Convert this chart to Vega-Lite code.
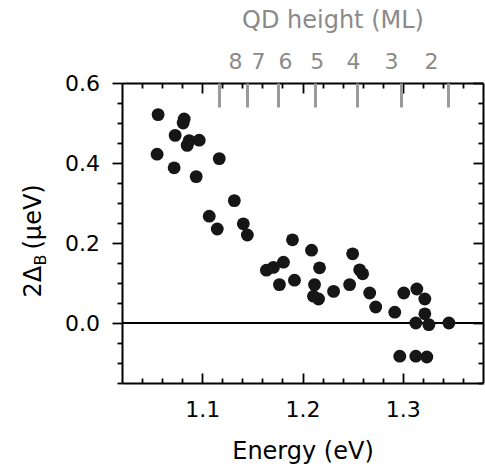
{
  "$schema": "https://vega.github.io/schema/vega-lite/v6.json",
  "width": 361,
  "height": 300,
  "autosize": {"type": "none"},
  "padding": {"left": 122, "top": 83, "right": 2, "bottom": 88},
  "config": {
    "font": "DejaVu Sans",
    "view": {"stroke": null},
    "axis": {"grid": false, "labelFlush": false, "labelOverlap": false, "domainColor": "#000000", "tickColor": "#000000", "labelColor": "#000000", "titleColor": "#000000", "tickWidth": 1.8, "domainWidth": 2, "labelFontWeight": "normal", "titleFontWeight": "normal"}
  },
  "data": {
    "values": [
      {"E": 1.056, "v": 0.521}, {"E": 1.082, "v": 0.510}, {"E": 1.081, "v": 0.500},
      {"E": 1.073, "v": 0.469}, {"E": 1.087, "v": 0.456}, {"E": 1.085, "v": 0.444},
      {"E": 1.097, "v": 0.457}, {"E": 1.055, "v": 0.422}, {"E": 1.117, "v": 0.411},
      {"E": 1.072, "v": 0.388}, {"E": 1.094, "v": 0.366}, {"E": 1.132, "v": 0.306},
      {"E": 1.107, "v": 0.267}, {"E": 1.141, "v": 0.248}, {"E": 1.115, "v": 0.235},
      {"E": 1.145, "v": 0.220}, {"E": 1.190, "v": 0.208}, {"E": 1.164, "v": 0.132},
      {"E": 1.171, "v": 0.139}, {"E": 1.181, "v": 0.152}, {"E": 1.177, "v": 0.096},
      {"E": 1.192, "v": 0.107}, {"E": 1.209, "v": 0.182}, {"E": 1.217, "v": 0.138},
      {"E": 1.250, "v": 0.173}, {"E": 1.257, "v": 0.133}, {"E": 1.260, "v": 0.123},
      {"E": 1.212, "v": 0.096}, {"E": 1.211, "v": 0.067}, {"E": 1.216, "v": 0.060},
      {"E": 1.231, "v": 0.079}, {"E": 1.247, "v": 0.096}, {"E": 1.267, "v": 0.075},
      {"E": 1.273, "v": 0.040}, {"E": 1.292, "v": 0.027}, {"E": 1.301, "v": 0.075},
      {"E": 1.314, "v": 0.085}, {"E": 1.322, "v": 0.060}, {"E": 1.322, "v": 0.023},
      {"E": 1.313, "v": 0.000}, {"E": 1.326, "v": -0.004}, {"E": 1.346, "v": 0.000},
      {"E": 1.297, "v": -0.083}, {"E": 1.313, "v": -0.083}, {"E": 1.324, "v": -0.085}
    ]
  },
  "resolve": {"scale": {"x": "shared", "y": "shared"}, "axis": {"x": "independent", "y": "independent"}},
  "layer": [
    {
      "mark": {"type": "rule", "color": "#000000", "strokeWidth": 2},
      "encoding": {"y": {"datum": 0, "type": "quantitative", "scale": {"domain": [-0.15, 0.6], "nice": false, "zero": false}, "axis": null}}
    },
    {
      "mark": {"type": "circle", "size": 165, "color": "#161616", "opacity": 1},
      "encoding": {
        "x": {"field": "E", "type": "quantitative", "scale": {"domain": [1.02, 1.38], "nice": false, "zero": false},
          "axis": {"orient": "bottom", "values": [1.1, 1.2, 1.3], "ticks": false, "domain": true, "labelFontSize": 22, "labelPadding": 16, "labelBaseline": "top", "format": ".1f", "title": "Energy (eV)", "titleFontSize": 24, "titleY": 75, "titleBaseline": "alphabetic"}},
        "y": {"field": "v", "type": "quantitative", "scale": {"domain": [-0.15, 0.6], "nice": false, "zero": false},
          "axis": {"orient": "left", "values": [0, 0.2, 0.4, 0.6], "tickSize": 10, "domain": true, "labelFontSize": 22, "labelPadding": 12.5, "format": ".1f", "title": null}}
      }
    },
    {
      "mark": {"type": "point", "opacity": 0},
      "encoding": {
        "x": {"field": "E", "type": "quantitative", "scale": {"domain": [1.02, 1.38], "nice": false, "zero": false},
          "axis": {"orient": "bottom", "values": [1.1, 1.2, 1.3], "tickSize": -10, "labels": false, "domain": false, "title": null}},
        "y": {"field": "v", "type": "quantitative", "scale": {"domain": [-0.15, 0.6], "nice": false, "zero": false},
          "axis": {"orient": "left", "values": [-0.15, -0.1, -0.05, 0.05, 0.1, 0.15, 0.25, 0.3, 0.35, 0.45, 0.5, 0.55], "tickSize": 5, "labels": false, "domain": false, "title": null}}
      }
    },
    {
      "mark": {"type": "point", "opacity": 0},
      "encoding": {
        "x": {"field": "E", "type": "quantitative", "scale": {"domain": [1.02, 1.38], "nice": false, "zero": false},
          "axis": {"orient": "bottom", "values": [1.04, 1.06, 1.08, 1.12, 1.14, 1.16, 1.18, 1.22, 1.24, 1.26, 1.28, 1.32, 1.34, 1.36], "tickSize": -5, "labels": false, "domain": false, "title": null}},
        "y": {"field": "v", "type": "quantitative", "scale": {"domain": [-0.15, 0.6], "nice": false, "zero": false},
          "axis": {"orient": "right", "values": [0, 0.2, 0.4, 0.6], "tickSize": -10, "labels": false, "domain": true, "title": null}}
      }
    },
    {
      "mark": {"type": "point", "opacity": 0},
      "encoding": {
        "x": {"field": "E", "type": "quantitative", "scale": {"domain": [1.02, 1.38], "nice": false, "zero": false},
          "axis": {"orient": "top", "values": [1.1, 1.2, 1.3], "tickSize": -10, "labels": false, "domain": true, "title": null}},
        "y": {"field": "v", "type": "quantitative", "scale": {"domain": [-0.15, 0.6], "nice": false, "zero": false},
          "axis": {"orient": "right", "values": [-0.15, -0.1, -0.05, 0.05, 0.1, 0.15, 0.25, 0.3, 0.35, 0.45, 0.5, 0.55], "tickSize": -5, "labels": false, "domain": false, "title": null}}
      }
    },
    {
      "mark": {"type": "point", "opacity": 0},
      "encoding": {
        "x": {"field": "E", "type": "quantitative", "scale": {"domain": [1.02, 1.38], "nice": false, "zero": false},
          "axis": {"orient": "top", "values": [1.04, 1.06, 1.08, 1.12, 1.14, 1.16, 1.18, 1.22, 1.24, 1.26, 1.28, 1.32, 1.34, 1.36], "tickSize": -5, "labels": false, "domain": false, "title": null}},
        "y": {"field": "v", "type": "quantitative", "scale": {"domain": [-0.15, 0.6], "nice": false, "zero": false},
          "axis": {"orient": "left", "ticks": false, "labels": false, "domain": false, "title": "2Δ", "titleFontSize": 24, "titleAngle": -90, "titleAlign": "left", "titleBaseline": "alphabetic", "titleX": -82, "titleY": 214}}
      }
    },
    {
      "mark": {"type": "point", "opacity": 0},
      "encoding": {
        "x": {"field": "E", "type": "quantitative", "scale": {"domain": [1.02, 1.38], "nice": false, "zero": false},
          "axis": {"orient": "top", "values": [1.1167, 1.1443, 1.1758, 1.2124, 1.254, 1.2982, 1.3453], "tickSize": -24, "tickWidth": 3, "tickColor": "#9a9a9a", "labels": false, "domain": false, "title": null}},
        "y": {"field": "v", "type": "quantitative", "scale": {"domain": [-0.15, 0.6], "nice": false, "zero": false},
          "axis": {"orient": "left", "ticks": false, "labels": false, "domain": false, "title": "B", "titleFontSize": 16, "titleAngle": -90, "titleAlign": "left", "titleBaseline": "alphabetic", "titleX": -77, "titleY": 182}}
      }
    },
    {
      "mark": {"type": "point", "opacity": 0},
      "encoding": {
        "x": {"field": "E", "type": "quantitative", "scale": {"domain": [1.02, 1.38], "nice": false, "zero": false},
          "axis": {"orient": "top", "values": [1.1327, 1.1556, 1.1825, 1.2142, 1.2503, 1.2882, 1.3281], "ticks": false, "domain": false, "labelFontSize": 22, "labelColor": "#8a8a8a", "labelPadding": 15, "labelBaseline": "alphabetic", "labelExpr": "datum.value < 1.14 ? '8' : datum.value < 1.17 ? '7' : datum.value < 1.2 ? '6' : datum.value < 1.23 ? '5' : datum.value < 1.27 ? '4' : datum.value < 1.31 ? '3' : '2'", "title": "QD height (ML)", "titleFontSize": 24, "titleColor": "#8a8a8a", "titleX": 210.5, "titleY": -56, "titleAlign": "center", "titleBaseline": "alphabetic"}},
        "y": {"field": "v", "type": "quantitative", "scale": {"domain": [-0.15, 0.6], "nice": false, "zero": false},
          "axis": {"orient": "left", "ticks": false, "labels": false, "domain": false, "title": "(μeV)", "titleFontSize": 24, "titleAngle": -90, "titleAlign": "left", "titleBaseline": "alphabetic", "titleX": -82, "titleY": 166}}
      }
    }
  ]
}
